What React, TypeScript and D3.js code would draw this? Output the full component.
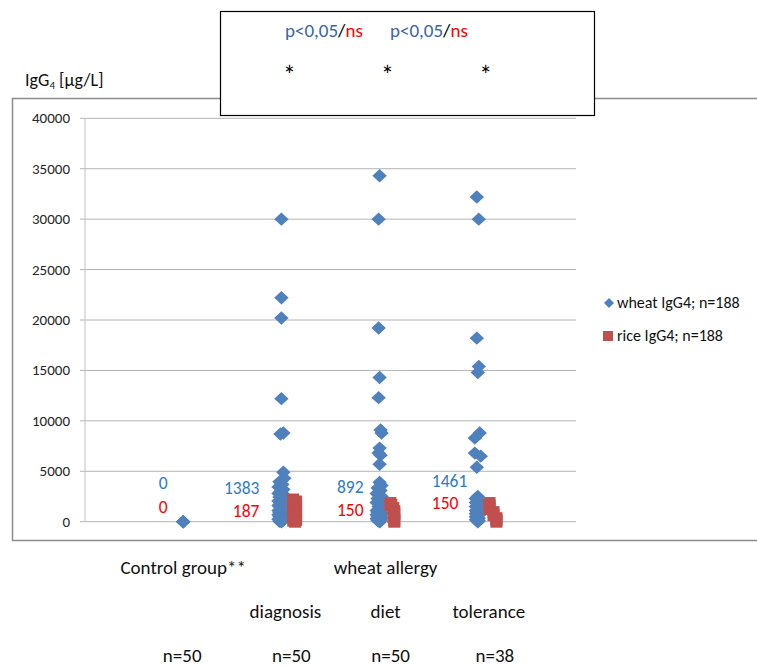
import React from "react";
import * as d3 from "d3";

// ---- data ----
const groupNames = ["Control group**", "diagnosis", "diet", "tolerance"];
const groupN = ["n=50", "n=50", "n=50", "n=38"];
const yTicks = [0, 5000, 10000, 15000, 20000, 25000, 30000, 35000, 40000];
const wheatMedians = [0, 1383, 892, 1461];
const riceMedians = [0, 187, 150, 150];
const pLabels = ["p<0,05", "p<0,05"];
const legendLabels = ["wheat IgG4; n=188", "rice IgG4; n=188"];

// [value, x-offset from group position]
const wheatControl: [number, number][] = [[0, 0], [0, 0], [0, 0]];
const wheatDiagnosis: [number, number][] = [
  [30000, 0], [22200, 0], [20200, 0], [12200, 0], [8800, 0.02], [8700, -0.01],
  [4900, 0.02], [4300, 0.03], [3950, -0.02], [3700, 0.01], [3450, -0.03], [3200, 0.02],
  [3000, -0.01], [2800, -0.03], [2600, 0.03], [2450, -0.02], [2250, 0.01], [2050, -0.03],
  [1900, 0.02], [1750, -0.01], [1600, -0.03], [1450, 0.02], [1383, -0.01], [1250, 0.03],
  [1100, -0.03], [1000, 0.01], [900, -0.02], [800, 0.02], [700, -0.03], [600, 0.01],
  [500, -0.02], [400, 0.03], [320, -0.01], [250, -0.03], [180, 0.02], [120, -0.01],
  [80, 0.01], [40, -0.02], [0, 0],
];
const wheatDiet: [number, number][] = [
  [34300, 0], [30000, -0.01], [19200, -0.01], [14300, 0], [12300, -0.01], [9100, 0.01],
  [8800, 0.02], [7300, 0], [6800, -0.01], [6600, 0.01], [5700, 0], [3900, 0],
  [3600, 0.02], [3350, -0.02], [3100, 0.01], [2800, -0.03], [2500, 0.02], [2300, -0.02],
  [2100, 0.01], [1900, -0.03], [1700, 0.02], [1500, -0.01], [1300, 0.02], [1100, -0.03],
  [950, 0.01], [892, -0.02], [800, 0.02], [700, -0.03], [600, 0.01], [500, -0.02],
  [400, 0.02], [300, -0.03], [200, 0.01], [120, -0.02], [60, 0.01], [0, 0],
];
const wheatTolerance: [number, number][] = [
  [32200, -0.01], [30000, 0.01], [18200, -0.01], [15400, 0.01], [14800, 0], [8800, 0.02],
  [8300, -0.03], [6800, -0.03], [6500, 0.03], [5400, -0.01], [2500, 0], [2300, -0.02],
  [2100, 0.01], [1900, -0.02], [1700, 0.01], [1500, -0.02], [1461, 0], [1300, 0.01],
  [1100, -0.02], [950, 0.01], [800, -0.02], [650, 0.01], [500, -0.02], [350, 0.01],
  [200, -0.02], [100, 0.01], [0, 0],
];
const riceDiagnosis: [number, number][] = [
  [2200, 0.12], [2000, 0.15], [1700, 0.12], [1400, 0.15], [1100, 0.12], [800, 0.15],
  [500, 0.12], [187, 0.15], [100, 0.12], [0, 0.14],
];
const riceDiet: [number, number][] = [
  [1850, 0.11], [1650, 0.12], [1350, 0.14], [1050, 0.15], [750, 0.15], [450, 0.14],
  [150, 0.15], [0, 0.15],
];
const riceTolerance: [number, number][] = [
  [1850, 0.12], [1550, 0.12], [1250, 0.12], [950, 0.16], [650, 0.16], [350, 0.19],
  [150, 0.19], [0, 0.19],
];

const wheatGroups = [wheatControl, wheatDiagnosis, wheatDiet, wheatTolerance];
const riceGroups: [number, number][][] = [[], riceDiagnosis, riceDiet, riceTolerance];

// ---- style ----
const FONT = "Carlito, Calibri, Lato, 'Open Sans', sans-serif";
const BLUE = "#4F81BD";
const RED = "#C0504D";
const LABEL_BLUE = "#2E7BC6";
const LABEL_RED = "#FF0000";
const P_BLUE = "#3A65A5";

export default function App() {
  const W = 757, H = 666;
  const x = d3.scaleLinear().domain([0, 5]).range([85, 576]);
  const y = d3.scaleLinear().domain([0, 40000]).range([521.7, 118.3]);

  const diamond = "M0,-6.7L7.2,0L0,6.7L-7.2,0Z";
  const sq = 12;

  // label layout (per group)
  const medLayout = [
    { anchor: "middle", dx: -20, by: -33, ry: -9 },
    { anchor: "end", dx: -22, by: -28, ry: -5 },
    { anchor: "end", dx: -16, by: -29, ry: -6 },
    { anchor: "start", dx: -46, by: -35, ry: -13 },
  ];
  const row2Dx = [0, 4, 6, 11];
  const nDx = [-1, 10, 11, 17];
  const LBL = 19;

  return (
    <svg width={W} height={H} style={{ position: "absolute", left: 0, top: 0, background: "#fff" }} fontFamily={FONT}>
      <rect x={0} y={0} width={W} height={H} fill="#fff" />
      {/* outer chart frame */}
      <rect x={12.5} y={98.5} width={W + 20} height={442} fill="none" stroke="#8c8c8c" strokeWidth={1.5} />

      {/* gridlines */}
      {yTicks.map((t) => (
        <g key={t}>
          <line x1={x(0) - 5} x2={x(5)} y1={y(t)} y2={y(t)} stroke="#b4b4b4" strokeWidth={1} />
          <text x={70} y={y(t) + 5} textAnchor="end" fontSize={15} fill="#262626">{t}</text>
        </g>
      ))}
      <line x1={x(0)} x2={x(0)} y1={y(40000)} y2={y(0)} stroke="#c0c0c0" strokeWidth={1} />

      {/* y title */}
      <text x={25} y={86} fontSize={18} fill="#111">
        IgG<tspan fontSize={11} dy={3}>4</tspan><tspan dy={-3}> [µg/L]</tspan>
      </text>

      {/* wheat series */}
      {wheatGroups.map((g, gi) =>
        g.map(([v, dx], i) => (
          <path key={`w${gi}-${i}`} d={diamond} fill={BLUE} transform={`translate(${x(gi + 1 + dx)},${y(v)})`} />
        ))
      )}
      {/* rice series */}
      {riceGroups.map((g, gi) =>
        g.map(([v, dx], i) => (
          <rect key={`r${gi}-${i}`} x={x(gi + 1 + dx) - sq / 2} y={y(v) - sq / 2} width={sq} height={sq} fill={RED} />
        ))
      )}

      {/* median labels */}
      {wheatMedians.map((m, i) => {
        const L = medLayout[i];
        return (
          <g key={`m${i}`} fontSize={17.5}>
            <text x={x(i + 1) + L.dx} y={y(0) + L.by} textAnchor={L.anchor as any} fill={LABEL_BLUE}>{m}</text>
            <text x={x(i + 1) + L.dx} y={y(0) + L.ry} textAnchor={L.anchor as any} fill={LABEL_RED}>{riceMedians[i]}</text>
          </g>
        );
      })}

      {/* legend */}
      <path d="M0,-5L5,0L0,5L-5,0Z" fill={BLUE} transform="translate(609,303)" />
      <text x={617} y={308} fontSize={16} fill="#111">{legendLabels[0]}</text>
      <rect x={603} y={331} width={10} height={10} fill={RED} />
      <text x={617} y={341} fontSize={16} fill="#111">{legendLabels[1]}</text>

      {/* annotation box */}
      <rect x={220.5} y={11.5} width={374} height={104} fill="#fff" stroke="#000" strokeWidth={1.2} />
      {pLabels.map((p, i) => (
        <text key={`p${i}`} x={285 + i * 105} y={37} fontSize={19}>
          <tspan fill={P_BLUE}>{p}</tspan>
          <tspan fill="#000">/</tspan>
          <tspan fill={LABEL_RED}>ns</tspan>
        </text>
      ))}
      {[x(2), x(3), x(4)].map((cx, i) => (
        <text key={`s${i}`} x={cx + 8} y={84} fontSize={26} textAnchor="middle" fill="#000">*</text>
      ))}

      {/* category labels */}
      <text x={x(1)} y={574} fontSize={LBL} textAnchor="middle" fill="#111">{groupNames[0]}</text>
      <text x={x(3) + 6} y={574} fontSize={LBL} textAnchor="middle" fill="#111">wheat allergy</text>
      {groupNames.slice(1).map((g, i) => (
        <text key={g} x={x(i + 2) + row2Dx[i + 1]} y={618} fontSize={LBL} textAnchor="middle" fill="#111">{g}</text>
      ))}
      {groupN.map((n, i) => (
        <text key={`n${i}`} x={x(i + 1) + nDx[i]} y={662} fontSize={LBL} textAnchor="middle" fill="#111">{n}</text>
      ))}
    </svg>
  );
}
